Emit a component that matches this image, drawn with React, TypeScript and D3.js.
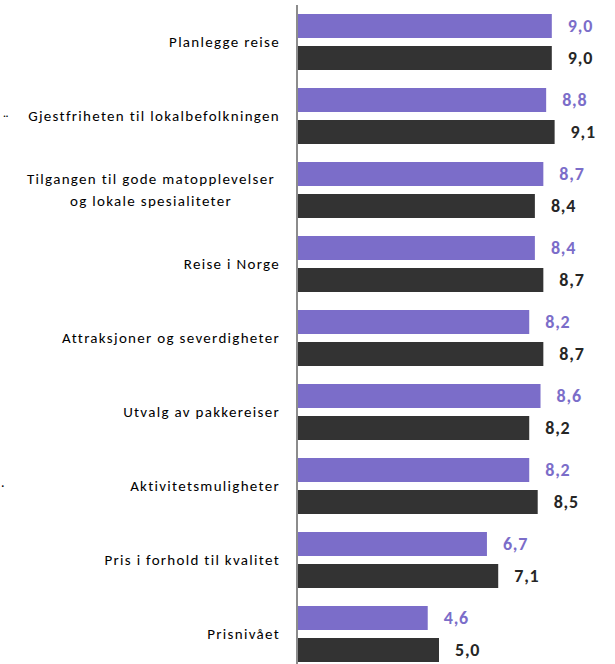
import React from "react";
import * as d3 from "d3";

const categories = [
  "Planlegge reise",
  "Gjestfriheten til lokalbefolkningen",
  "Tilgangen til gode matopplevelser\nog lokale spesialiteter",
  "Reise i Norge",
  "Attraksjoner og severdigheter",
  "Utvalg av pakkereiser",
  "Aktivitetsmuligheter",
  "Pris i forhold til kvalitet",
  "Prisnivået",
];
const series = ["a", "b"];
const seriesA = [9.0, 8.8, 8.7, 8.4, 8.2, 8.6, 8.2, 6.7, 4.6];
const seriesB = [9.0, 9.1, 8.4, 8.7, 8.7, 8.2, 8.5, 7.1, 5.0];

const colors: Record<string, string> = { a: "#7B6DC9", b: "#333333" };
const labelColors: Record<string, string> = { a: "#7B6DC9", b: "#262626" };

const W = 615;
const H = 664;
const font = "Carlito, Calibri, Lato, 'Open Sans', sans-serif";

const App = () => {
  const x = d3.scaleLinear().domain([0, 10]).range([298, 580]);
  const y = d3.scaleBand().domain(categories).range([5, 5 + 74 * categories.length]);
  const sub = d3.scaleBand().domain(series).range([9, 65]).paddingInner(0.25);

  const rows = categories.map((c, i) => ({
    c,
    vals: [
      { k: "a", v: seriesA[i] },
      { k: "b", v: seriesB[i] },
    ],
  }));

  return (
    <svg
      width={W}
      height={H}
      style={{ position: "absolute", left: 0, top: 0, background: "#fff" }}
    >
      {rows.map((r) => {
        const y0 = y(r.c)!;
        const lines = r.c.split("\n");
        const cy = y0 + y.bandwidth() / 2 + 1;
        return (
          <g key={r.c}>
            {r.vals.map((d) => (
              <g key={d.k}>
                <rect
                  x={x(0)}
                  y={y0 + sub(d.k)!}
                  width={x(d.v) - x(0)}
                  height={sub.bandwidth()}
                  fill={colors[d.k]}
                />
                <text
                  x={x(d.v) + 16}
                  y={y0 + sub(d.k)! + sub.bandwidth() / 2 + 2}
                  dominantBaseline="middle"
                  fontFamily={font}
                  fontWeight="bold"
                  fontSize={18}
                  letterSpacing={0.8}
                  fill={labelColors[d.k]}
                >
                  {d.v.toFixed(1).replace(".", ",")}
                </text>
              </g>
            ))}
            <text
              textAnchor={lines.length > 1 ? "middle" : "end"}
              fontFamily={font}
              fontSize={15}
              letterSpacing={1.3}
              fill="#000"
            >
              {lines.map((l, j) => (
                <tspan
                  key={j}
                  x={lines.length > 1 ? 151 : 280}
                  y={cy + (j - (lines.length - 1) / 2) * 22}
                  dominantBaseline="middle"
                >
                  {l}
                </tspan>
              ))}
            </text>
          </g>
        );
      })}
      <line x1={297} x2={297} y1={5} y2={H} stroke="#8c8c8c" strokeWidth={2} />
      <text x={3} y={125} fontFamily={font} fontSize={14} fill="#000">
        ¨
      </text>
      <text x={1} y={487} fontFamily={font} fontSize={14} fill="#000">
        .
      </text>
    </svg>
  );
};

export default App;
